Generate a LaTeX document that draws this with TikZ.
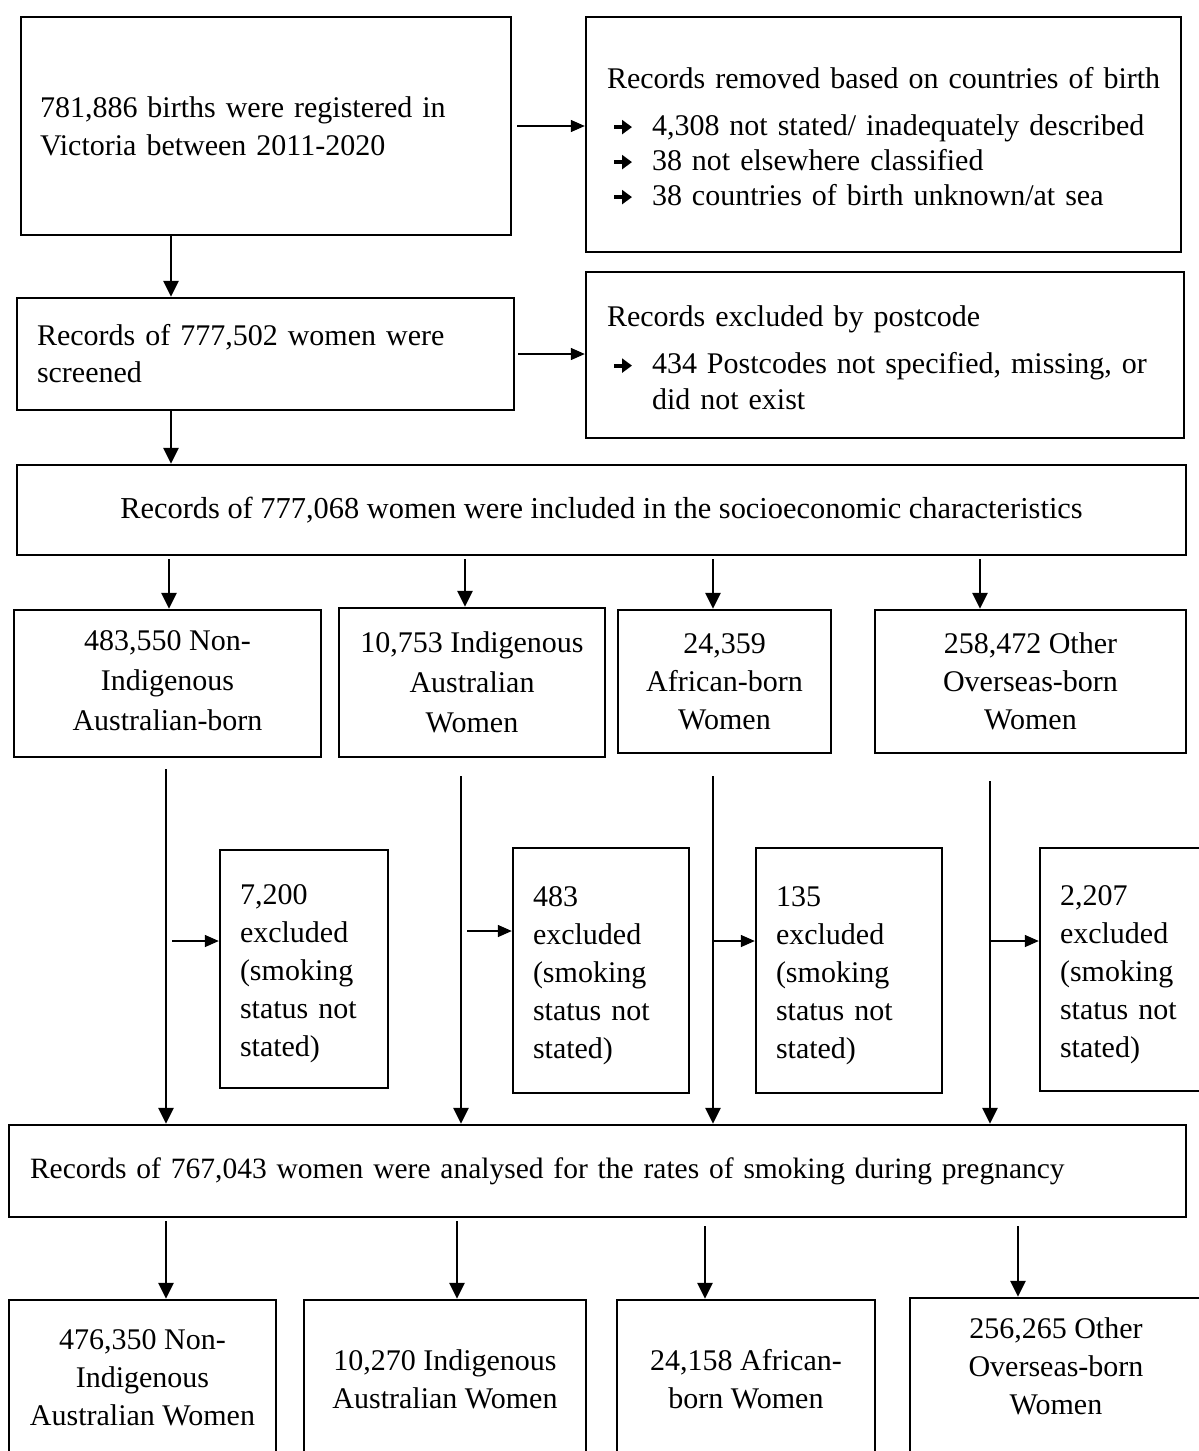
\documentclass[tikz,border=0pt]{standalone}
\usepackage{fontspec}
\setmainfont{Liberation Serif}
\usetikzlibrary{arrows.meta}
\newcommand{\bul}{\makebox[45pt][l]{\hspace{5pt}\tikz[baseline=-8pt]\draw[line width=4pt,-{Triangle[length=10pt,width=14pt]}] (0pt,0pt) -- (18pt,0pt);}}
\begin{document}
\begin{tikzpicture}[x=1pt,y=-1pt,
  box/.style={draw, line width=2.4pt, inner sep=0pt, font=\fontsize{30}{38}\selectfont},
  thk/.style={line width=2.7pt, -{Triangle[length=16pt,width=15pt]}},
  thn/.style={line width=1.4pt, -{Triangle[length=14pt,width=12pt]}}]
\useasboundingbox (0,0) rectangle (1199,1451);
\clip (0,0) rectangle (1199,1451);
\fill[white] (0,0) rectangle (1199,1451);

% top boxes
\node[box, minimum width=490pt, minimum height=218pt, text width=452pt, align=left] (A) at (266,126)
  {781,886 births were registered in\\Victoria between 2011-2020};
\node[box, minimum width=595pt, minimum height=235pt, text width=553pt, align=left,
  text height=24.5pt, font=\fontsize{30}{35}\selectfont] (B) at (883.5,134.5)
  {\mbox{Records removed based on countries of birth}\\[12pt]
   \mbox{\bul 4,308 not stated/ inadequately described}\\
   \mbox{\bul 38 not elsewhere classified}\\
   \mbox{\bul 38 countries of birth unknown/at sea}};
\node[box, minimum width=497pt, minimum height=112pt, text width=457pt, align=left,
  font=\fontsize{30}{37}\selectfont] (C) at (265.5,354)
  {Records of 777,502 women were\\screened};
\node[box, minimum width=598pt, minimum height=166pt, text width=556pt, align=left,
  text height=26.5pt, font=\fontsize{30}{36}\selectfont] (D) at (885,355)
  {Records excluded by postcode\\[11pt]
   \mbox{\bul 434 Postcodes not specified, missing, or}\\
   \hspace*{45pt}did not exist};
\node[box, minimum width=1169pt, minimum height=90pt, align=center, font=\fontsize{30.4}{38}\selectfont] (E) at (601.5,510)
  {Records of 777,068 women were included in the socioeconomic characteristics};

% group boxes
\node[box, minimum width=307pt, minimum height=147pt, align=center, text height=94.3pt, font=\fontsize{30}{40}\selectfont] (F1) at (167.5,683.5)
  {483,550 Non-\\Indigenous\\Australian-born};
\node[box, minimum width=266pt, minimum height=149pt, align=center, font=\fontsize{30}{40}\selectfont] (F2) at (472,682.5)
  {10,753 Indigenous\\Australian\\Women};
\node[box, minimum width=213pt, minimum height=143pt, align=center, font=\fontsize{30}{38}\selectfont] (F3) at (724.5,681.5)
  {24,359\\African-born\\Women};
\node[box, minimum width=311pt, minimum height=143pt, align=center, font=\fontsize{30}{38}\selectfont] (F4) at (1030.5,681.5)
  {258,472 Other\\Overseas-born\\Women};

% exclusion boxes
\node[box, minimum width=168pt, minimum height=238pt, text width=128pt, align=left, text height=30pt] (X1) at (304,969)
  {7,200\\excluded\\(smoking\\status not\\stated)};
\node[box, minimum width=176pt, minimum height=245pt, text width=136pt, align=left, text height=30pt] (X2) at (601,970.5)
  {483\\excluded\\(smoking\\status not\\stated)};
\node[box, minimum width=186pt, minimum height=245pt, text width=146pt, align=left, text height=30pt] (X3) at (849,970.5)
  {135\\excluded\\(smoking\\status not\\stated)};
\node[box, minimum width=180pt, minimum height=243pt, text width=140pt, align=left, text height=30pt] (X4) at (1130,969.5)
  {2,207\\excluded\\(smoking\\status not\\stated)};

% analysed box
\node[box, minimum width=1177pt, minimum height=92pt, text width=1135pt, align=left, font=\fontsize{29.5}{38}\selectfont] (G) at (597.5,1171)
  {Records of 767,043 women were analysed for the rates of smoking during pregnancy};

% final boxes
\node[box, minimum width=267pt, minimum height=156pt, align=center] (H1) at (142.5,1378)
  {476,350 Non-\\Indigenous\\Australian Women};
\node[box, minimum width=282pt, minimum height=158pt, align=center] (H2) at (445,1379)
  {10,270 Indigenous\\Australian Women};
\node[box, minimum width=258pt, minimum height=158pt, align=center] (H3) at (746,1379)
  {24,158 African-\\born Women};
\node[box, minimum width=292pt, minimum height=174pt, align=center] (H4) at (1056,1385)
  {256,265 Other\\Overseas-born\\Women\\\mbox{}};

% column coordinates
\coordinate (c1) at (171,0);
\coordinate (e1) at (169,0);
\coordinate (e2) at (465,0);
\coordinate (e3) at (713,0);
\coordinate (e4) at (980,0);
\coordinate (v1) at (166,0);
\coordinate (v2) at (461,0);
\coordinate (v3) at (713,0);
\coordinate (v4) at (990,0);
\coordinate (g1) at (166,0);
\coordinate (g2) at (457,0);
\coordinate (g3) at (705,0);
\coordinate (g4) at (1018,0);
\coordinate (y1) at (0,941);
\coordinate (y2) at (0,931);
\coordinate (y3) at (0,941);
\coordinate (y4) at (0,941);

% connectors
\draw[thn, shorten <=5pt] (A.east) -- (A.east -| B.west);
\draw[thk] (A.south -| c1) -- (C.north -| c1);
\draw[thn, shorten <=3pt] (C.east) -- (C.east -| D.west);
\draw[thk] (C.south -| c1) -- (E.north -| c1);

\draw[thk, shorten <=3pt] (E.south -| e1) -- (F1.north -| e1);
\draw[thk, shorten <=3pt] (E.south -| e2) -- (F2.north -| e2);
\draw[thk, shorten <=3pt] (E.south -| e3) -- (F3.north -| e3);
\draw[thk, shorten <=3pt] (E.south -| e4) -- (F4.north -| e4);

\draw[thk, shorten <=11pt] (F1.south -| v1) -- (G.north -| v1);
\draw[thk, shorten <=18pt] (F2.south -| v2) -- (G.north -| v2);
\draw[thk, shorten <=22pt] (F3.south -| v3) -- (G.north -| v3);
\draw[thk, shorten <=27pt] (F4.south -| v4) -- (G.north -| v4);

\draw[thn, shorten <=6pt] (v1 |- y1) -- (X1.west |- y1);
\draw[thn, shorten <=6pt] (v2 |- y2) -- (X2.west |- y2);
\draw[thn] (v3 |- y3) -- (X3.west |- y3);
\draw[thn] (v4 |- y4) -- (X4.west |- y4);

\draw[thk, shorten <=3pt] (G.south -| g1) -- (H1.north -| g1);
\draw[thk, shorten <=3pt] (G.south -| g2) -- (H2.north -| g2);
\draw[thk, shorten <=8pt] (G.south -| g3) -- (H3.north -| g3);
\draw[thk, shorten <=8pt] (G.south -| g4) -- (H4.north -| g4);
\end{tikzpicture}
\end{document}
